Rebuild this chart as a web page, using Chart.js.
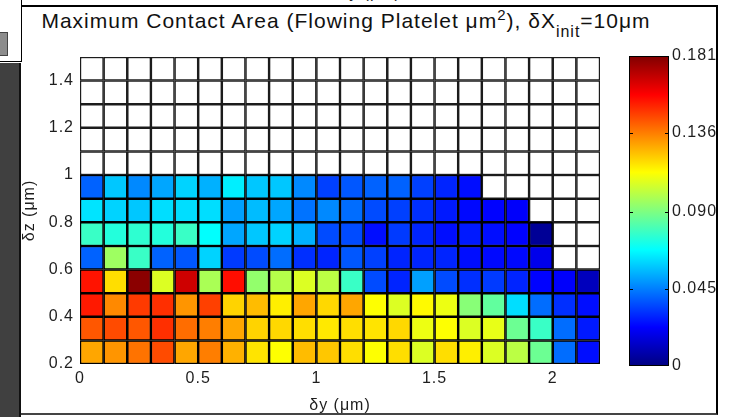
<!DOCTYPE html>
<html>
<head>
<meta charset="utf-8">
<script src="https://cdn.jsdelivr.net/npm/chart.js@4/dist/chart.umd.min.js"></script>
<style>
  html, body { margin: 0; padding: 0; background: #fff; }
  body { width: 733px; height: 417px; position: relative; overflow: hidden; font-family: "Liberation Sans", Arial, sans-serif; }
  #topleft { position: absolute; left: 0; top: 0; width: 21px; height: 61px; background: #fff; border-right: 1px solid #000; border-bottom: 1px solid #000; }
  #btn { position: absolute; left: 0; top: 32px; width: 7px; height: 22px; background: #8c8c8c; border: 1px solid #444; border-left: none; }
  #strip { position: absolute; left: 0; top: 63px; width: 19px; height: 354px; background: #404040; border-right: 2px solid #111; }
  #prev { position: absolute; left: 22px; top: 0; width: 696px; height: 5px; overflow: hidden; }
  #prev div { position: absolute; left: 0; width: 100%; top: -15px; text-align: center; font-size: 16px; line-height: 16px; letter-spacing: 1px; color: #222; }
  #panel { position: absolute; left: 21px; top: 5px; width: 697px; height: 410px; border-top: 2px solid #000; border-right: 2px solid #000; border-bottom: 2px solid #444; box-sizing: border-box; }
  #title { position: absolute; left: 20px; width: 652px; top: 10px; text-align: center; font-size: 21px; line-height: 21px; letter-spacing: 1px; color: #111; white-space: nowrap; }
  #title sup { font-size: 15px; vertical-align: 8px; line-height: 0; }
  #title sub { font-size: 16px; vertical-align: -9px; line-height: 0; }
  #main { position: absolute; left: 22px; top: 6px; }
  #cbar { position: absolute; left: 620px; top: 40px; }
</style>
</head>
<body>
<div id="topleft"><div id="btn"></div></div>
<div id="strip"></div>
<div id="prev"><div>δy (μm)</div></div>
<div id="panel"></div>
<div id="title">Maximum Contact Area (Flowing Platelet μm<sup>2</sup>), δX<sub>init</sub>=10μm</div>
<canvas id="main" width="696" height="408"></canvas>
<canvas id="cbar" width="98" height="345"></canvas>
<script>
// cell centres along δy (μm), 0.1 wide
const dyCenters = [0.05, 0.15, 0.25, 0.35, 0.45, 0.55, 0.65, 0.75, 0.85, 0.95, 1.05,
                   1.15, 1.25, 1.35, 1.45, 1.55, 1.65, 1.75, 1.85, 1.95, 2.05, 2.15];
// lower edge of each δz row (μm), 0.1 tall
const dzRows = [0.2, 0.3, 0.4, 0.5, 0.6, 0.7, 0.8, 0.9, 1.0, 1.1, 1.2, 1.3, 1.4];

// max contact area (μm²) per row, null = no contact
const area02 = [0.129, 0.132, 0.138, 0.145, 0.129, 0.136, 0.127, 0.118, 0.113, 0.125, 0.123,
                0.119, 0.113, 0.119, 0.107, 0.119, 0.116, 0.107, 0.101, 0.087, 0.042, 0.025];
const area03 = [0.143, 0.145, 0.143, 0.150, 0.139, 0.136, 0.129, 0.121, 0.120, 0.119, 0.117,
                0.119, 0.118, 0.120, 0.110, 0.113, 0.107, 0.109, 0.087, 0.078, 0.042, 0.027];
const area04 = [0.154, 0.134, 0.148, 0.150, 0.132, 0.147, 0.121, 0.125, 0.116, 0.129, 0.120,
                0.129, 0.113, 0.107, 0.114, 0.110, 0.092, 0.085, 0.062, 0.042, 0.031, 0.025];
const area05 = [0.155, 0.119, 0.179, 0.107, 0.167, 0.098, 0.156, 0.094, 0.100, 0.107, 0.101,
                0.078, 0.036, 0.029, 0.051, 0.036, 0.031, 0.033, 0.029, 0.023, 0.022, 0.011];
const area06 = [0.040, 0.096, 0.078, 0.040, 0.038, 0.060, 0.033, 0.036, 0.042, 0.031, 0.029,
                0.038, 0.034, 0.029, 0.029, 0.029, 0.025, 0.024, 0.024, 0.019, null, null];
const area07 = [0.078, 0.074, 0.076, 0.074, 0.078, 0.068, 0.052, 0.058, 0.060, 0.054, 0.036,
                0.036, 0.025, 0.033, 0.029, 0.025, 0.027, 0.025, 0.023, 0.004, null, null];
const area08 = [0.063, 0.060, 0.058, 0.062, 0.062, 0.062, 0.051, 0.056, 0.052, 0.043, 0.047,
                0.042, 0.036, 0.034, 0.031, 0.027, 0.024, 0.023, 0.022, null, null, null];
const area09 = [0.040, 0.058, 0.047, 0.052, 0.060, 0.054, 0.065, 0.058, 0.058, 0.047, 0.034,
                0.038, 0.040, 0.040, 0.034, 0.029, 0.025, null, null, null, null, null];
const areaRows = [area02, area03, area04, area05, area06, area07, area08, area09];

const dyTicks = [0, 0.5, 1, 1.5, 2];
const dzTicks = [0.2, 0.4, 0.6, 0.8, 1, 1.2, 1.4];
const cbMax = 0.181;
const cbTicks = [0, 0.045, 0.090, 0.136, 0.181];
const cbLabels = ['0', '0.045', '0.090', '0.136', '0.181'];

function clamp01(v) { return Math.max(0, Math.min(1, v)); }
function jet(t) {
  t = clamp01(t);
  const r = clamp01(1.5 - Math.abs(4 * t - 3));
  const g = clamp01(1.5 - Math.abs(4 * t - 2));
  const b = clamp01(1.5 - Math.abs(4 * t - 1));
  return 'rgb(' + Math.round(r * 255) + ',' + Math.round(g * 255) + ',' + Math.round(b * 255) + ')';
}

const tickFont = { family: '"Liberation Sans", Arial, sans-serif', size: 16 };
const inkColor = '#1e1e1e';

// one floating-bar dataset per δz row
const datasets = dzRows.map(function (z, r) {
  const vals = areaRows[r] || [];
  return {
    data: dyCenters.map(function (x, i) {
      return { x: x, y: [z, +(z + 0.1).toFixed(1)], v: vals[i] == null ? null : vals[i] };
    }),
    backgroundColor: function (ctx) {
      const p = ctx.raw;
      return (p && p.v != null) ? jet(p.v / cbMax) : '#ffffff';
    },
    borderColor: function (ctx) {
      const p = ctx.raw;
      return (p && p.v != null) ? '#000000' : '#1c1c1c';
    },
    borderWidth: 1.5,
    borderSkipped: false,
    grouped: false,
    barPercentage: 1,
    categoryPercentage: 1,
    inflateAmount: 0.25
  };
});

const spacing = {
  id: 'spacing',
  beforeDraw: function (chart) { chart.ctx.letterSpacing = '1px'; }
};

new Chart(document.getElementById('main'), {
  type: 'bar',
  data: { datasets: datasets },
  plugins: [spacing],
  options: {
    responsive: false,
    animation: false,
    events: [],
    layout: { padding: { top: 51, right: 118, left: 0, bottom: 0 } },
    plugins: { legend: { display: false }, tooltip: { enabled: false } },
    scales: {
      x: {
        type: 'linear',
        offset: false,
        min: 0,
        max: 2.2,
        afterBuildTicks: function (s) { s.ticks = dyTicks.map(function (v) { return { value: v }; }); },
        afterFit: function (s) { s.height = 50; },
        grid: { display: false, drawTicks: false },
        border: { display: false },
        ticks: { font: tickFont, color: inkColor, padding: 5, maxRotation: 0, callback: function (v) { return String(v); } },
        title: { display: true, text: 'δy (μm)', font: tickFont, color: inkColor, padding: { top: 0, bottom: -1 } }
      },
      y: {
        type: 'linear',
        min: 0.2,
        max: 1.5,
        afterBuildTicks: function (s) { s.ticks = dzTicks.map(function (v) { return { value: v }; }); },
        afterFit: function (s) { s.width = 58; },
        grid: { display: false, drawTicks: false },
        border: { display: false },
        ticks: { font: tickFont, color: inkColor, padding: 6, callback: function (v) { return String(v); } },
        title: { display: true, text: 'δz (μm)', font: Object.assign({}, tickFont, { lineHeight: 1 }), color: inkColor, padding: { top: 0, bottom: 0 } }
      }
    }
  }
});

// colour bar
const cbMarks = {
  id: 'cbMarks',
  afterDatasetsDraw: function (chart) {
    const c = chart.ctx, a = chart.chartArea, y = chart.scales.y;
    c.save();
    c.strokeStyle = '#000';
    c.lineWidth = 1;
    cbTicks.slice(1, -1).forEach(function (v) {
      const py = Math.round(y.getPixelForValue(v)) + 0.5;
      c.beginPath();
      c.moveTo(a.left, py); c.lineTo(a.left + 4, py);
      c.moveTo(a.right - 4, py); c.lineTo(a.right, py);
      c.stroke();
    });
    c.restore();
  }
};

new Chart(document.getElementById('cbar'), {
  type: 'bar',
  data: {
    labels: [''],
    datasets: [{
      data: [[0, cbMax]],
      backgroundColor: function (ctx) {
        const chart = ctx.chart;
        if (!chart.chartArea) return '#000080';
        const y = chart.scales.y;
        const g = chart.ctx.createLinearGradient(0, y.getPixelForValue(0), 0, y.getPixelForValue(cbMax));
        [0, 0.125, 0.375, 0.625, 0.875, 1].forEach(function (t) { g.addColorStop(t, jet(t)); });
        return g;
      },
      borderColor: '#000',
      borderWidth: 1,
      borderSkipped: false,
      barPercentage: 1,
      categoryPercentage: 1,
      inflateAmount: 0
    }]
  },
  plugins: [spacing, cbMarks],
  options: {
    responsive: false,
    animation: false,
    events: [],
    layout: { padding: { top: 16, right: 0, left: 9, bottom: 19 } },
    plugins: { legend: { display: false }, tooltip: { enabled: false } },
    scales: {
      x: { display: false },
      y: {
        position: 'right',
        min: 0,
        max: cbMax,
        afterBuildTicks: function (s) { s.ticks = cbTicks.map(function (v) { return { value: v }; }); },
        afterFit: function (s) { s.width = 49; },
        grid: { display: false, drawTicks: false },
        border: { display: false },
        ticks: { font: tickFont, color: inkColor, padding: 3, callback: function (v, i) { return cbLabels[i]; } }
      }
    }
  }
});
</script>
</body>
</html>
